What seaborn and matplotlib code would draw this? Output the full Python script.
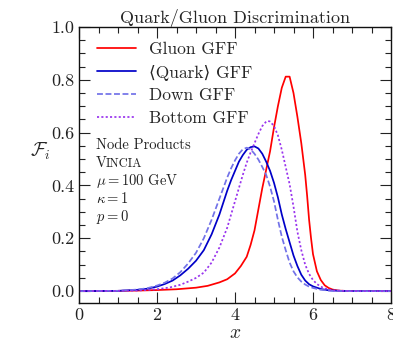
import numpy as np
import pandas as pd
import matplotlib
matplotlib.use("Agg")
import matplotlib.pyplot as plt
import seaborn as sns
from matplotlib.ticker import MultipleLocator

# ---- data ----
gluon_x = [0, 0.5, 1, 1.5, 2, 2.5, 3, 3.3, 3.6, 3.8, 4.0, 4.15, 4.3, 4.4, 4.5, 4.6, 4.7, 4.8,
           4.9, 5.0, 5.1, 5.2, 5.3, 5.4, 5.5, 5.6, 5.7, 5.8, 5.85, 5.9, 5.95, 6.0, 6.1, 6.2,
           6.3, 6.4, 6.5, 6.65, 6.8, 7, 8]
gluon_y = [0, 0, 0.001, 0.002, 0.004, 0.007, 0.013, 0.02, 0.033, 0.045, 0.067, 0.095, 0.13,
           0.175, 0.23, 0.31, 0.39, 0.46, 0.53, 0.62, 0.70, 0.77, 0.812, 0.812, 0.75, 0.66,
           0.56, 0.44, 0.36, 0.27, 0.20, 0.14, 0.075, 0.042, 0.022, 0.012, 0.006, 0.002,
           0.001, 0, 0]

quark_x = [0, 1, 1.5, 1.75, 2.0, 2.2, 2.4, 2.6, 2.8, 3.0, 3.2, 3.4, 3.6, 3.8, 3.9, 4.0, 4.1,
           4.2, 4.3, 4.4, 4.5, 4.6, 4.7, 4.8, 4.9, 5.0, 5.1, 5.2, 5.3, 5.4, 5.5, 5.6, 5.7,
           5.8, 5.9, 6.0, 6.2, 6.4, 6.7, 7, 8]
quark_y = [0, 0.001, 0.005, 0.009, 0.017, 0.027, 0.04, 0.06, 0.085, 0.115, 0.155, 0.215,
           0.29, 0.38, 0.42, 0.455, 0.49, 0.515, 0.535, 0.545, 0.548, 0.54, 0.52, 0.49,
           0.455, 0.41, 0.355, 0.29, 0.235, 0.185, 0.135, 0.095, 0.062, 0.04, 0.026, 0.018,
           0.008, 0.003, 0.001, 0, 0]

down_x = [0, 1, 1.5, 1.75, 2.0, 2.2, 2.4, 2.6, 2.8, 3.0, 3.2, 3.4, 3.6, 3.8, 3.9, 4.0, 4.1,
          4.2, 4.3, 4.4, 4.5, 4.6, 4.7, 4.8, 4.9, 5.0, 5.1, 5.2, 5.3, 5.4, 5.5, 5.6, 5.7,
          5.8, 5.9, 6.0, 6.2, 6.5, 7, 8]
down_y = [0, 0.001, 0.006, 0.011, 0.021, 0.032, 0.048, 0.072, 0.105, 0.145, 0.2, 0.27, 0.35,
          0.43, 0.465, 0.495, 0.52, 0.537, 0.543, 0.537, 0.52, 0.498, 0.47, 0.44, 0.395,
          0.34, 0.27, 0.206, 0.155, 0.108, 0.075, 0.052, 0.036, 0.025, 0.017, 0.012, 0.005,
          0.001, 0, 0]

bottom_x = [0, 1, 1.5, 2.0, 2.33, 2.6, 2.8, 3.0, 3.2, 3.4, 3.6, 3.8, 4.0, 4.1, 4.2, 4.3, 4.4,
            4.5, 4.6, 4.7, 4.8, 4.85, 4.9, 5.0, 5.1, 5.2, 5.3, 5.4, 5.5, 5.6, 5.7, 5.8, 5.9,
            6.0, 6.1, 6.2, 6.3, 6.5, 6.8, 7, 8]
bottom_y = [0, 0.001, 0.002, 0.007, 0.014, 0.024, 0.036, 0.05, 0.07, 0.108, 0.165, 0.24,
            0.34, 0.39, 0.44, 0.486, 0.525, 0.56, 0.595, 0.625, 0.642, 0.644, 0.642, 0.625,
            0.59, 0.535, 0.47, 0.405, 0.32, 0.225, 0.155, 0.1, 0.065, 0.042, 0.027, 0.017,
            0.01, 0.003, 0.001, 0, 0]

labels = ["Gluon GFF", "\u27e8Quark\u27e9 GFF", "Down GFF", "Bottom GFF"]
title = "Quark/Gluon Discrimination"
info_lines = ["Node Products", None, r"$\mu = 100$ GeV", r"$\kappa = 1$", r"$p = 0$"]

# ---- style ----
sns.set_style("ticks")
plt.rcParams["font.family"] = ["cmr10", "DejaVu Serif", "DejaVu Sans"]
plt.rcParams["mathtext.fontset"] = "cm"
plt.rcParams["axes.formatter.use_mathtext"] = True
plt.rcParams["axes.unicode_minus"] = False

fig = plt.figure(figsize=(3.93, 3.39), dpi=100)
ax = fig.add_axes([79 / 393, 1 - 303 / 339, (391 - 79) / 393, (303 - 27) / 339])

series = [
    (gluon_x, gluon_y, "#ff0000", "-"),
    (quark_x, quark_y, "#0000c8", "-"),
    (down_x, down_y, "#7272e8", (0, (3.4, 1.5))),
    (bottom_x, bottom_y, "#9933ee", (0, (1.2, 1.3))),
]
for (xs, ys, col, ls), lab in zip(series, labels):
    df = pd.DataFrame({"x": xs, "y": ys})
    sns.lineplot(data=df, x="x", y="y", ax=ax, color=col, linestyle=ls,
                 linewidth=1.25, label=lab, estimator=None, sort=False)

ax.set_xlim(0, 8)
ax.set_ylim(-0.045, 1.0)
ax.xaxis.set_major_locator(MultipleLocator(2))
ax.xaxis.set_minor_locator(MultipleLocator(0.5))
ax.yaxis.set_major_locator(MultipleLocator(0.2))
ax.yaxis.set_minor_locator(MultipleLocator(0.05))
ax.yaxis.set_major_formatter(matplotlib.ticker.FormatStrFormatter("%.1f"))
ax.tick_params(which="both", direction="in", top=True, right=True, colors="#222222",
               labelsize=13, width=0.8)
ax.tick_params(which="major", length=8, pad=3)
ax.tick_params(which="minor", length=4.5)
for sp in ax.spines.values():
    sp.set_linewidth(1.0)
    sp.set_color("#111111")

ax.set_xlabel(r"$x$", fontsize=14, labelpad=1)
ax.set_ylabel(r"$\mathcal{F}_i$", fontsize=14, rotation=0, labelpad=14)
ax.yaxis.set_label_coords(-0.125, 0.51)
ax.set_title(title, fontsize=13, pad=3)

leg = ax.legend(loc="upper left", frameon=False, fontsize=12.5, handlelength=2.2,
                handletextpad=0.8, labelspacing=0.42, borderaxespad=0.3,
                bbox_to_anchor=(0.02, 0.99))

# info text block (baselines in pixels from top)
x0 = 96
ys_px = [149, 167, 185, 203, 221]
for line, ypx in zip(info_lines, ys_px):
    yy = 1 - ypx / 339
    xx = x0 / 393
    if line is None:
        fig.text(xx, yy, "V", fontsize=10.5, va="baseline", ha="left", color="#222222")
        fig.text(xx + 9.5 / 393, yy, "INCIA", fontsize=9, va="baseline", ha="left",
                 color="#222222")
    else:
        fig.text(xx, yy, line, fontsize=10.5, va="baseline", ha="left", color="#222222")

fig.savefig("out.png", dpi=100)
